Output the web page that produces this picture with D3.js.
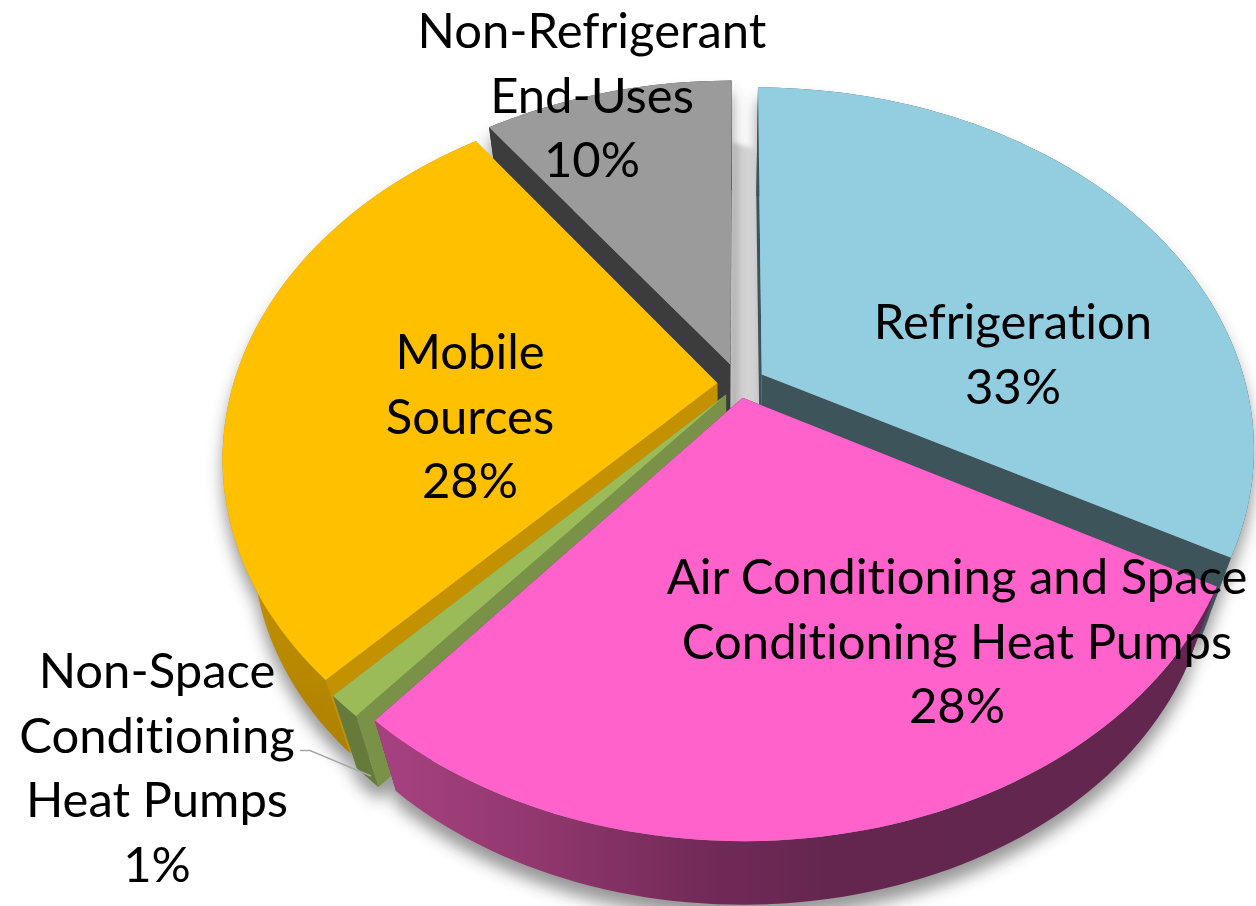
<!DOCTYPE html>
<html>
<head>
<meta charset="utf-8">
<script src="https://cdn.jsdelivr.net/npm/d3@7"></script>
<style>
  html, body { margin: 0; padding: 0; background: #fff; }
  svg { display: block; }
  text { font-family: Lato, sans-serif; font-size: 49px; fill: #000; text-anchor: middle; font-variant-ligatures: none; }
</style>
</head>
<body>
<div id="chart"></div>
<script>
const categories = ["Refrigeration", "Air Conditioning and Space Conditioning Heat Pumps", "Non-Space Conditioning Heat Pumps", "Mobile Sources", "Non-Refrigerant End-Uses"];
const shares = [33, 28, 1, 28, 10];
const labelLines = [
    ["Refrigeration", "33%"],
    ["Air Conditioning and Space", "Conditioning Heat Pumps", "28%"],
    ["Non-Space", "Conditioning", "Heat Pumps", "1%"],
    ["Mobile", "Sources", "28%"],
    ["Non-Refrigerant", "End-Uses", "10%"]
];

const width = 1256;
const height = 906;

// slice look, same order as categories
const topColors = ["#92CDE0", "#FF62CB", "#9BBB59", "#FFC000", "#9B9B9B"];
const sideColors = ["#3D545B", "#6E2A58", "#7A9248", "#C49200", "#3C3C3C"];
const rimColors = ["#3D545B", "url(#pinkRim)", "#667B3B", "url(#goldRim)", "#3C3C3C"];
const explode = [0.055, 0.04, 0.04, 0.045, 0.06];
const labelPos = [[1013, 339], [957, 594], [157, 688], [470, 369], [592, 48]];
const lineGap = 64.6;

// tilted disc: u,v are on the disc plane, v grows toward the viewer
const cx = 739, cy = 384, sx = 484, sy = 348, persp = 0.201;
// the sides of the pie run toward this point
const vanish = [730, 1900], depth = 0.06;

const project = (u, v) => {
    const w = 1 - persp * v;
    return [cx + sx * u / w, cy + sy * v / w];
};
const lower = p => [p[0] + depth * (vanish[0] - p[0]), p[1] + depth * (vanish[1] - p[1])];

const arcs = d3.pie().sort(null).value(d => d)(shares);
const line = d3.line();

const svg = d3.select("#chart").append("svg")
    .attr("width", width)
    .attr("height", height)
    .attr("viewBox", [0, 0, width, height]);

const defs = svg.append("defs");
defs.append("filter").attr("id", "soft").attr("x", "-10%").attr("y", "-10%").attr("width", "120%").attr("height", "120%")
    .append("feGaussianBlur").attr("stdDeviation", 8);
defs.append("filter").attr("id", "softBand").attr("x", "-30%").attr("y", "-10%").attr("width", "160%").attr("height", "120%")
    .append("feGaussianBlur").attr("stdDeviation", 2);

const gradient = (id, x1, y1, x2, y2, stops) => {
    const g = defs.append("linearGradient").attr("id", id).attr("gradientUnits", "userSpaceOnUse")
        .attr("x1", x1).attr("y1", y1).attr("x2", x2).attr("y2", y2);
    stops.forEach(s => g.append("stop").attr("offset", s[0]).attr("stop-color", s[1]));
};
gradient("pinkRim", 385, 0, 1190, 0, [[0, "#A6417F"], [0.18, "#92386F"], [0.4, "#722A58"], [0.55, "#64264F"], [1, "#62264F"]]);
gradient("goldRim", 0, 500, 0, 760, [[0, "#C89600"], [0.5, "#BC8C00"], [1, "#AC7F00"]]);
gradient("gapBand", 734, 0, 760, 0, [[0, "#B4B4B4"], [0.35, "#D2D2D2"], [0.75, "#D4D4D4"], [1, "#BDBDBD"]]);

// geometry of each slice
const slices = arcs.map((a, i) => {
    const mid = (a.startAngle + a.endAngle) / 2;
    const du = explode[i] * Math.sin(mid), dv = -explode[i] * Math.cos(mid);
    const at = (angle, r = 1) => project(du + r * Math.sin(angle), dv - r * Math.cos(angle));
    const n = Math.max(4, Math.ceil((a.endAngle - a.startAngle) * 40));
    const rim = d3.range(n + 1).map(k => at(a.startAngle + (a.endAngle - a.startAngle) * k / n));
    return { i, a, at, rim, apex: at(0, 0), front: dv };
});

const wallStart = s => [s.apex, s.rim[0], lower(s.rim[0]), lower(s.apex)];
const wallEnd = s => [s.apex, s.rim[s.rim.length - 1], lower(s.rim[s.rim.length - 1]), lower(s.apex)];
const wallRim = s => s.rim.concat(s.rim.map(lower).reverse());
const topFace = s => [s.apex].concat(s.rim);

// soft shadow under the whole pie
const shadow = svg.append("g").attr("filter", "url(#soft)").attr("transform", "translate(0,13)").attr("opacity", 0.5);
slices.forEach(s => {
    shadow.append("path").attr("d", line(wallRim(s)) + "Z").attr("fill", "#333");
    shadow.append("path").attr("d", line(topFace(s).map(lower)) + "Z").attr("fill", "#333");
});

// pale wall seen through the gap at the top
const grey = slices[4], fridge = slices[0];
const gapTop = 0.75;
svg.append("path")
    .attr("d", line([grey.at(grey.a.endAngle, gapTop), fridge.at(fridge.a.startAngle, gapTop), lower(fridge.apex), lower(grey.apex)]) + "Z")
    .attr("fill", "url(#gapBand)")
    .attr("filter", "url(#softBand)");

// back to front
const order = slices.slice().sort((p, q) => p.front - q.front);
order.forEach(s => {
    const g = svg.append("g");
    g.append("path").attr("d", line(wallStart(s)) + "Z").attr("fill", sideColors[s.i]);
    g.append("path").attr("d", line(wallEnd(s)) + "Z").attr("fill", sideColors[s.i]);
    g.append("path").attr("d", line(wallRim(s)) + "Z").attr("fill", rimColors[s.i]);
    g.append("path").attr("d", line(topFace(s)) + "Z").attr("fill", topColors[s.i]);
});

// leader for the small slice
svg.append("path")
    .attr("d", line([[300, 750.5], [310, 750.5], [371, 776]]))
    .attr("fill", "none")
    .attr("stroke", "#A6A6A6")
    .attr("stroke-width", 1.5);

const labels = svg.append("g").selectAll("text")
    .data(labelLines)
    .join("text")
    .attr("transform", (d, i) => `translate(${labelPos[i][0]},${labelPos[i][1]})`);
labels.selectAll("tspan")
    .data(d => d)
    .join("tspan")
    .attr("x", 0)
    .attr("y", (d, i) => i * lineGap)
    .text(d => d);
</script>
</body>
</html>
